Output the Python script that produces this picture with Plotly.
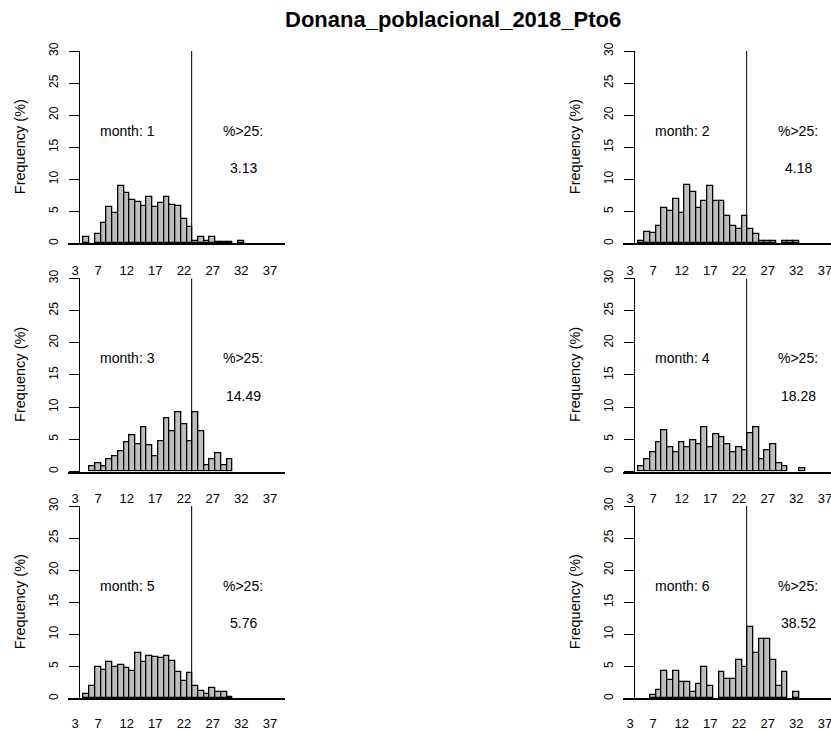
import plotly.graph_objects as go

# ── Data ──────────────────────────────────────────────────────────────────────
size_classes = list(range(5, 40))          # one bar per class (35 classes)
months = [1, 2, 3, 4, 5, 6]
pct_over_25 = ["3.13", "4.18", "14.49", "18.28", "5.76", "38.52"]

freq_m1 = [1.0, 0, 1.5, 3.2, 5.7, 4.7, 9.0, 7.9, 6.8, 6.4, 5.9, 7.2, 5.7, 6.35,
           7.2, 6.0, 5.8, 3.75, 2.5, 0.3, 1.05, 0.4, 1.05, 0.2, 0.2, 0.2, 0, 0.3,
           0, 0, 0, 0, 0, 0, 0]
freq_m2 = [0.4, 1.8, 1.65, 2.75, 5.5, 5.0, 7.0, 4.7, 9.15, 8.05, 5.5, 6.55, 8.95,
           6.55, 6.55, 4.2, 2.75, 2.3, 4.2, 2.3, 1.45, 0.4, 0.4, 0.4, 0, 0.4, 0.4,
           0.4, 0, 0, 0, 0, 0, 0, 0]
freq_m3 = [0, 0.88, 1.3, 0.88, 1.9, 2.3, 3.2, 4.5, 5.55, 4.3, 6.8, 4.0, 2.3, 4.65,
           8.3, 6.3, 9.15, 7.3, 4.65, 9.15, 6.3, 1.0, 1.9, 2.8, 1.0, 1.9,
           0, 0, 0, 0, 0, 0, 0, 0, 0]
freq_m4 = [0.88, 1.9, 2.95, 4.5, 6.35, 3.8, 2.95, 4.5, 3.8, 4.9, 4.25, 6.8, 3.8,
           5.75, 5.3, 4.25, 2.95, 3.8, 3.35, 5.95, 6.8, 1.9, 3.35, 4.25, 1.3, 0.88,
           0, 0, 0.45, 0, 0, 0, 0, 0, 0]
freq_m5 = [0.68, 2.0, 4.95, 4.5, 5.6, 4.95, 5.2, 4.8, 4.3, 7.1, 5.6, 6.65, 6.5,
           6.25, 6.65, 5.8, 4.15, 2.65, 4.0, 2.0, 1.2, 0.68, 1.56, 0.94, 0.94, 0.26,
           0, 0, 0, 0, 0, 0, 0, 0, 0]
freq_m6 = [0, 0, 0.47, 1.3, 4.3, 2.85, 4.3, 2.6, 2.6, 0.94, 2.2, 4.95, 2.0, 0,
           4.15, 3.0, 3.0, 6.0, 4.95, 11.2, 7.1, 9.2, 9.2, 6.0, 2.0, 4.15, 0, 0.94,
           0, 0, 0, 0, 0, 0, 0]
freqs = [freq_m1, freq_m2, freq_m3, freq_m4, freq_m5, freq_m6]

x_ticks = [3, 7, 12, 17, 22, 27, 32, 37]
y_ticks = [0, 5, 10, 15, 20, 25, 30]
threshold_x = 23.34

# ── Layout helpers (pixel geometry of the original R device) ──────────────────
W, H = 831, 731
FONT = "Liberation Sans, Arial, sans-serif"

col_dom = [(68.3, 285.0), (623.3, 831.0)]      # plot area, px
col_yaxis = [79.0, 634.0]                      # y-axis line, px
col_xrange = [(1.81, 39.63), (1.81, 38.06)]
row_dom = [(51.0, 243.4), (278.3, 471.5), (506.0, 698.4)]  # top, bottom px
row_standoff = [14, 14, 12]                    # keep bottom labels inside the page


def px_x(p):
    return p / W


def px_y(p):
    return 1 - p / H


fig = go.Figure()
layout = dict(
    width=W, height=H,
    margin=dict(l=0, r=0, t=0, b=0, autoexpand=False),
    plot_bgcolor="white", paper_bgcolor="white",
    font=dict(family=FONT, color="black"),
    showlegend=False,
    bargap=0,
)
annotations = []
shapes = []

for i, (month, freq, pct) in enumerate(zip(months, freqs, pct_over_25)):
    r, c = divmod(i, 2)
    n = "" if i == 0 else str(i + 1)
    xa, ya = f"x{n}", f"y{n}"
    top, bot = row_dom[r]

    # empty classes get no outline, so the baseline keeps an even weight
    outline = [1.3 if v > 0 else 0 for v in freq]
    fig.add_trace(go.Bar(
        x=size_classes, y=freq, width=1,
        marker=dict(color="#bebebe", line=dict(color="black", width=outline)),
        xaxis=xa, yaxis=ya, hoverinfo="x+y",
    ))

    layout[f"xaxis{n}"] = dict(
        domain=[px_x(col_dom[c][0]), px_x(col_dom[c][1])],
        range=list(col_xrange[c]), anchor=ya, automargin=False,
        tickvals=x_ticks, ticks="", ticklabelstandoff=row_standoff[r],
        ticklabeloverflow="allow",
        tickfont=dict(size=13), showline=True, linecolor="black", linewidth=1.8,
        showgrid=False, zeroline=False, fixedrange=True,
    )
    layout[f"yaxis{n}"] = dict(
        domain=[px_y(bot), px_y(top)], range=[0, 30], automargin=False,
        anchor="free", position=px_x(col_yaxis[c]),
        tickvals=y_ticks, ticks="outside", ticklen=10, tickcolor="black",
        tickangle=-90, tickfont=dict(size=12), ticklabelstandoff=6,
        showline=True, linecolor="black", linewidth=1,
        showgrid=False, zeroline=False, fixedrange=True,
    )

    shapes.append(dict(type="line", xref=xa, yref=ya,
                       x0=threshold_x, x1=threshold_x, y0=0, y1=30,
                       line=dict(color="black", width=1)))

    txt = dict(xref=xa, yref=ya, showarrow=False, font=dict(size=14),
               xanchor="center", yanchor="middle")
    annotations += [
        dict(txt, x=12.2, y=17.6, text=f"month: {month}"),
        dict(txt, x=32.3, y=17.6, text="%>25:"),
        dict(txt, x=32.3, y=11.8, text=pct),
        dict(xref="paper", yref="paper", showarrow=False,
             x=px_x(20 + 555 * c), y=px_y((top + bot) / 2),
             text="Frequency (%)", textangle=-90, font=dict(size=14.5),
             xanchor="center", yanchor="middle"),
    ]

annotations.append(dict(
    xref="paper", yref="paper", x=px_x(453), y=px_y(20), showarrow=False,
    text="<b>Donana_poblacional_2018_Pto6</b>", font=dict(size=22),
    xanchor="center", yanchor="middle",
))

fig.update_layout(**layout, annotations=annotations, shapes=shapes)
# pin the fixed-size figure to the window's top-left corner (no page margin / scroll)
pin = ("var d=document.getElementById('{plot_id}');"
       "d.style.position='fixed';d.style.top='0px';d.style.left='0px';"
       "document.body.style.margin='0';"
       "document.documentElement.style.overflow='hidden';")
fig.write_html("out.html", config={"displayModeBar": False}, post_script=pin)
